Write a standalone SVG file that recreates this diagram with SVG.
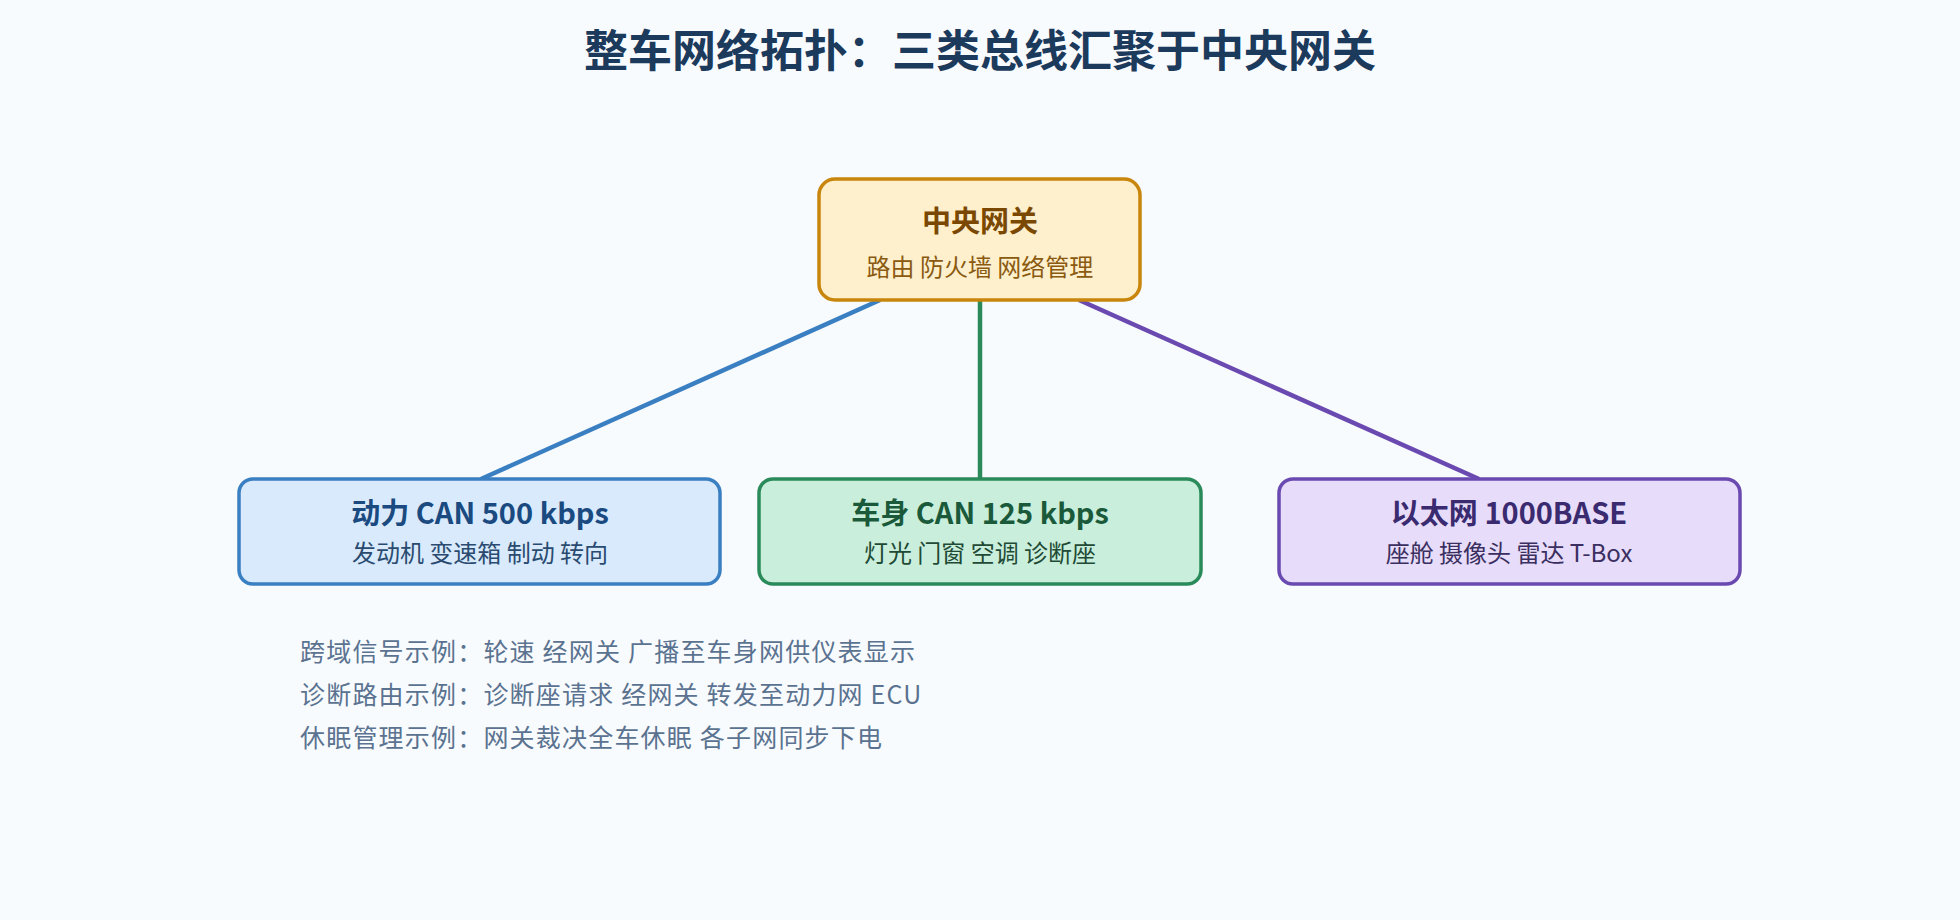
<svg xmlns="http://www.w3.org/2000/svg" width="1960" height="920" viewBox="0 0 1960 920">
<style>
text{font-family:"Noto Sans CJK SC","Noto Sans",sans-serif;text-anchor:middle}
.t{font-size:29px;font-weight:bold}
.s{font-size:24px}
.n{font-size:25px;fill:#5b7390;text-anchor:start;letter-spacing:1.2px}
.box{stroke-width:3.5}
.c{stroke-width:4.5;fill:none}
</style>
<rect width="1960" height="920" fill="#f8fbfe"/>
<text x="980" y="67" style="font-size:44px;font-weight:bold;fill:#1b3a5c">整车网络拓扑：三类总线汇聚于中央网关</text>
<g id="connectors">
<line class="c" x1="880" y1="300" x2="481" y2="479" stroke="#3a7fc1"/>
<line class="c" x1="980" y1="300" x2="980" y2="479" stroke="#2a8a5a"/>
<line class="c" x1="1079" y1="300" x2="1479" y2="479" stroke="#6a4ab0"/>
</g>
<g id="gateway">
<rect class="box" x="819" y="179" width="321" height="121" rx="16" fill="#feefcd" stroke="#c8860d"/>
<text class="t" x="980" y="232" fill="#7a4800">中央网关</text>
<text class="s" x="980" y="276" fill="#8a5a10">路由 防火墙 网络管理</text>
</g>
<g id="powertrain">
<rect class="box" x="239" y="479" width="481" height="105" rx="14" fill="#d8eafc" stroke="#3a7fc1"/>
<text class="t" x="480" y="524" fill="#1a4a80">动力 CAN 500 kbps</text>
<text class="s" x="480" y="562" fill="#2a4a70">发动机 变速箱 制动 转向</text>
</g>
<g id="body">
<rect class="box" x="759" y="479" width="442" height="105" rx="14" fill="#c9efdc" stroke="#2a8a5a"/>
<text class="t" x="980" y="524" fill="#1a5a3a">车身 CAN 125 kbps</text>
<text class="s" x="980" y="562" fill="#1f4a35">灯光 门窗 空调 诊断座</text>
</g>
<g id="ethernet">
<rect class="box" x="1279" y="479" width="461" height="105" rx="14" fill="#e7dcf9" stroke="#6a4ab0"/>
<text class="t" x="1509" y="524" fill="#3a2a70">以太网 1000BASE</text>
<text class="s" x="1509" y="562" fill="#3a2f60">座舱 摄像头 雷达 T-Box</text>
</g>
<g id="notes">
<text class="n" x="300" y="661">跨域信号示例：轮速 经网关 广播至车身网供仪表显示</text>
<text class="n" x="300" y="704">诊断路由示例：诊断座请求 经网关 转发至动力网 ECU</text>
<text class="n" x="300" y="747">休眠管理示例：网关裁决全车休眠 各子网同步下电</text>
</g>
</svg>
